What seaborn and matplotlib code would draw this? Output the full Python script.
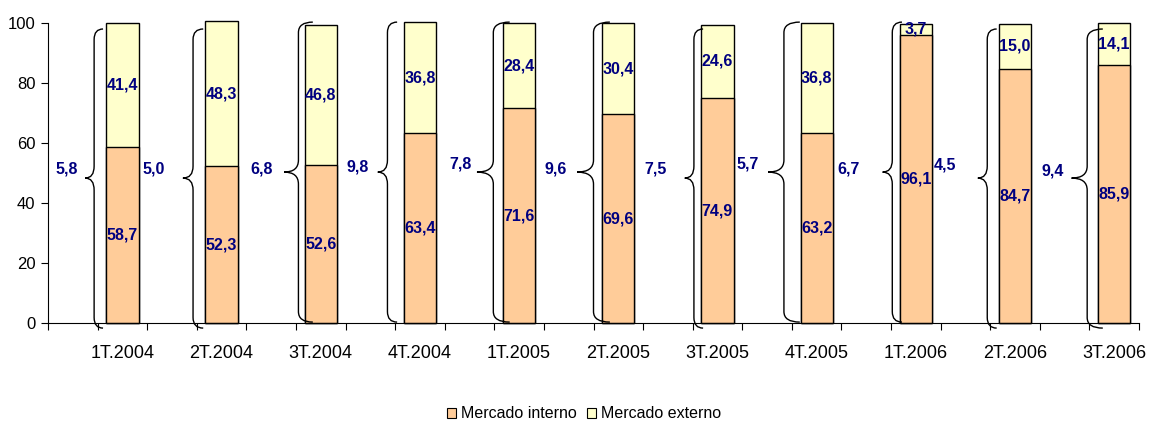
import numpy as np
import pandas as pd
import matplotlib
matplotlib.use('Agg')
import matplotlib.pyplot as plt
from matplotlib.path import Path
from matplotlib.patches import PathPatch, Patch
import seaborn as sns

# data (% of sales)
quarters = ['1T.2004', '2T.2004', '3T.2004', '4T.2004', '1T.2005', '2T.2005',
            '3T.2005', '4T.2005', '1T.2006', '2T.2006', '3T.2006']
interno = [58.7, 52.3, 52.6, 63.4, 71.6, 69.6, 74.9, 63.2, 96.1, 84.7, 85.9]
externo = [41.4, 48.3, 46.8, 36.8, 28.4, 30.4, 24.6, 36.8, 3.7, 15.0, 14.1]
variacao = [5.8, 5.0, 6.8, 9.8, 7.8, 9.6, 7.5, 5.7, 6.7, 4.5, 9.4]

# layout of the braces / side labels (offsets from bar centre, in slot units)
brace_tip = [-0.75, -0.78, -0.74, -0.85, -0.85, -0.83, -0.66, -0.98, -0.67, -0.75, -0.86]
brace_end = [-0.39, -0.37, -0.16, -0.46, -0.19, -0.17, -0.29, -0.34, -0.28, -0.37, -0.23]
brace_low = [True, True, False, False, False, False, True, False, False, True, True]
label_dx = [-1.12, -1.36, -1.19, -1.25, -1.19, -1.26, -1.24, -1.39, -1.35, -1.42, -1.24]
label_y = [51.5, 51.5, 51.5, 52.0, 53.0, 51.5, 51.5, 53.0, 51.5, 52.5, 50.5]

PEACH = '#FFCC99'
CREAM = '#FFFFCC'
NAVY = '#000080'

sns.set_theme(style='white')
plt.rcParams['font.family'] = ['Liberation Sans', 'DejaVu Sans']
plt.rcParams['text.color'] = 'black'

pos = [2 * i + 1 for i in range(len(quarters))]
df = pd.DataFrame({'pos': pos, 'quarter': quarters, 'interno': interno,
                   'total': np.array(interno) + np.array(externo)})

fig = plt.figure(figsize=(11.49, 4.21), dpi=100)
ax = fig.add_axes([48 / 1149, (421 - 323) / 421, 1091 / 1149, 300 / 421])

sns.barplot(data=df, x='pos', y='total', native_scale=True, color=CREAM,
            saturation=1, edgecolor='black', linewidth=1, width=0.325,
            errorbar=None, ax=ax)
sns.barplot(data=df, x='pos', y='interno', native_scale=True, color=PEACH,
            saturation=1, edgecolor='black', linewidth=1, width=0.325,
            errorbar=None, ax=ax)
for p in ax.patches:
    p.set_clip_on(False)


def fmt(v):
    return f'{v:.1f}'.replace('.', ',')


def brace(x_tip, x_end, top, bot, tip, r_end=3.5, r_tip=4.0):
    xm = (x_tip + x_end) / 2
    verts = [(x_end, top), (xm, top), (xm, top - r_end), (xm, tip + r_tip),
             (xm, tip), (x_tip, tip), (xm, tip), (xm, tip - r_tip),
             (xm, bot + r_end), (xm, bot), (x_end, bot)]
    codes = [Path.MOVETO, Path.CURVE3, Path.CURVE3, Path.LINETO,
             Path.CURVE3, Path.CURVE3, Path.CURVE3, Path.CURVE3,
             Path.LINETO, Path.CURVE3, Path.CURVE3]
    ax.add_patch(PathPatch(Path(verts, codes), facecolor='none', edgecolor='black',
                           linewidth=1.0, clip_on=False, zorder=5))


for i, x in enumerate(pos):
    ax.text(x, interno[i] / 2, fmt(interno[i]), ha='center', va='center',
            color=NAVY, fontsize=11.5, fontweight='bold', zorder=6)
    ax.text(x, interno[i] + externo[i] / 2, fmt(externo[i]), ha='center', va='center',
            color=NAVY, fontsize=11.5, fontweight='bold', zorder=6)
    if brace_low[i]:
        brace(x + brace_tip[i], x + brace_end[i], 98.0, -1.7, 48.3)
    else:
        brace(x + brace_tip[i], x + brace_end[i], 100.3, 0.3, 50.3)
    ax.text(x + label_dx[i], label_y[i], fmt(variacao[i]), ha='center', va='center',
            color=NAVY, fontsize=11.5, fontweight='bold')

ax.set_xlim(-0.5, 21.5)
ax.set_ylim(0, 100)
ax.set_yticks(range(0, 101, 20))
ax.set_xticks(pos, quarters)
ax.set_xticks(np.arange(-0.5, 22, 1), minor=True)
ax.set_xlabel('')
ax.set_ylabel('')
ax.tick_params(axis='x', which='major', length=0, pad=16, labelsize=13, colors='black')
ax.tick_params(axis='x', which='minor', length=5, width=0.8, direction='out', color='black', bottom=True)
ax.tick_params(axis='y', length=5, width=0.8, direction='out', pad=4, labelsize=12, colors='black', left=True)
sns.despine(ax=ax)
for s in ['left', 'bottom']:
    ax.spines[s].set_color('black')
    ax.spines[s].set_linewidth(0.8)

handles = [Patch(facecolor=PEACH, edgecolor='black', linewidth=0.8, label='Mercado interno'),
           Patch(facecolor=CREAM, edgecolor='black', linewidth=0.8, label='Mercado externo')]
fig.legend(handles=handles, loc='center', bbox_to_anchor=(584 / 1149, 7 / 421), ncol=2,
           frameon=False, fontsize=11.5, handlelength=0.6, handleheight=0.6,
           handletextpad=0.3, columnspacing=0.6, labelcolor='black')

fig.savefig('out.png', dpi=100)
